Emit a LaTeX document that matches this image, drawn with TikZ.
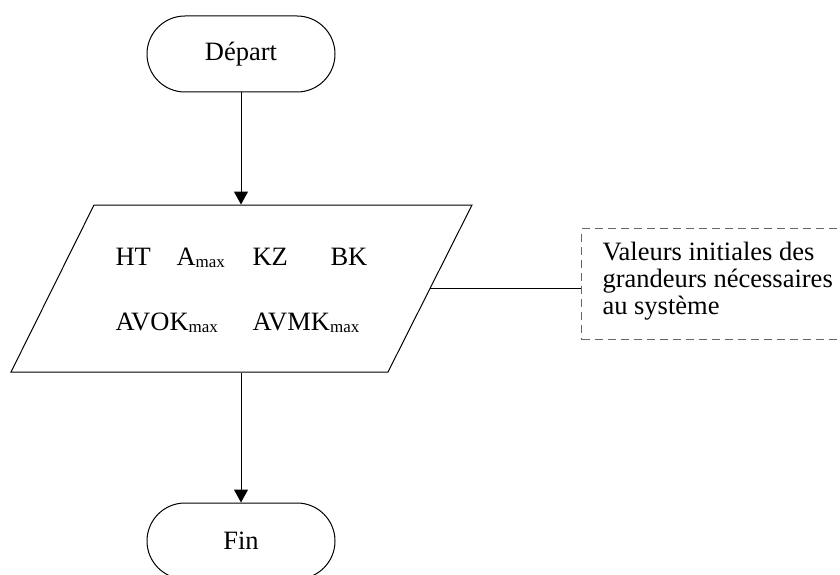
\documentclass[tikz,border=0pt]{standalone}
\usepackage{fontspec}
\setmainfont{Liberation Serif}
\usetikzlibrary{arrows.meta}
\newcommand{\sbx}[1]{\raisebox{-2pt}{\fontsize{17}{17}\selectfont #1}}
\begin{document}
\begin{tikzpicture}[x=1pt,y=-1pt,line width=1pt,
  term/.style={draw, rounded corners=38pt, minimum width=188pt, minimum height=76pt, inner sep=0pt, font=\fontsize{26.5}{26.5}\selectfont},
  lbl/.style={anchor=base west, inner sep=0pt, font=\fontsize{26.5}{26.5}\selectfont},
  notebox/.style={draw=black!60, dash pattern=on 8pt off 5pt, anchor=north west, minimum height=111pt, minimum width=280pt, inner sep=0pt},
  notetext/.style={anchor=base west, inner sep=0pt, align=left, font=\fontsize{26.5}{24.5}\selectfont},
  arr/.style={-{Triangle[length=13pt,width=14pt]}}]
\useasboundingbox (0,0) rectangle (840,575);
\node[term] (start) at (241,54) {Départ};
\node[term] (end) at (241,541) {Fin};
\node[draw=none, minimum width=10pt, minimum height=167pt, inner sep=0pt] (io) at (241,288.5) {};
\coordinate (p1) at (94,205);
\coordinate (p2) at (472,205);
\coordinate (p3) at (388,372);
\coordinate (p4) at (11,372);
\draw (p1) -- (p2) -- (p3) -- (p4) -- cycle;
\coordinate (ioR) at (430,288.5);
\node[lbl] (ht) at (115,265) {HT};
\node[lbl] (amax) at (176,265) {A\sbx{max}};
\node[lbl] (kz) at (252,265) {KZ};
\node[lbl] (bk) at (330,265) {BK};
\node[lbl] (avok) at (115,330) {AVOK\sbx{max}};
\node[lbl] (avmk) at (252,330) {AVMK\sbx{max}};
\node[notebox] (note) at (581,228) {};
\node[notetext] (notet) at (602,314) {Valeurs initiales des\\[2.5pt]grandeurs nécessaires\\[2.5pt]au système};
\draw[arr] (start) -- (io.north);
\draw[arr] (io.south) -- (end);
\draw (ioR) -- (ioR -| note.west);
\end{tikzpicture}
\end{document}
